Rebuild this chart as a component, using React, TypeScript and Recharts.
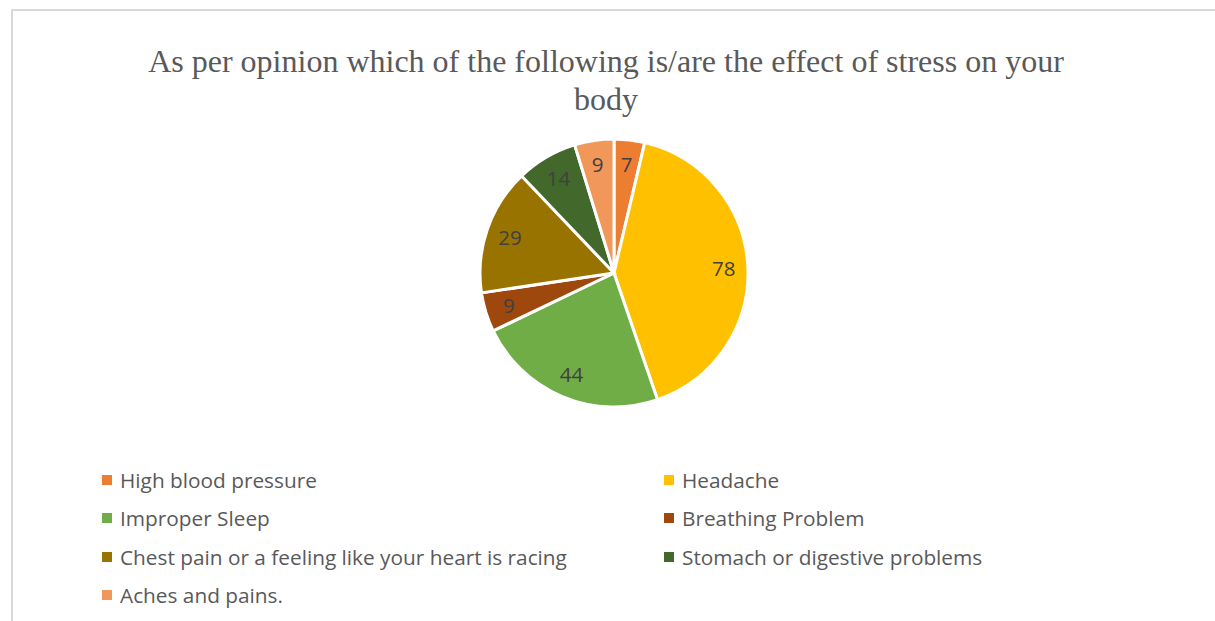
import React from 'react';
import { PieChart, Pie, Cell, Legend } from 'recharts';

const categories = [
  'High blood pressure',
  'Headache',
  'Improper Sleep',
  'Breathing Problem',
  'Chest pain or a feeling like your heart is racing',
  'Stomach or digestive problems',
  'Aches and pains.',
];
const counts = [7, 78, 44, 9, 29, 14, 9];
const colors = ['#ED7D31', '#FFC000', '#70AD47', '#9E480E', '#997300', '#43682B', '#F1975A'];

const title = 'As per opinion which of the following is/are the effect of stress on your body';

const data = categories.map((name, i) => ({ name, value: counts[i] }));

const RADIAN = Math.PI / 180;
const FONT = '"Open Sans", "Noto Sans", sans-serif';

function renderLabel(props: any) {
  const { cx, cy, midAngle, outerRadius, value } = props;
  const r = outerRadius * 0.82;
  const x = cx + r * Math.cos(-midAngle * RADIAN);
  const y = cy + r * Math.sin(-midAngle * RADIAN);
  return (
    <text x={x} y={y} fill="#404040" fontSize={20.5} fontFamily={FONT} textAnchor="middle" dominantBaseline="central">
      {value}
    </text>
  );
}

function LegendGrid() {
  return (
    <div
      style={{
        display: 'grid',
        gridTemplateColumns: '562px 500px',
        fontFamily: FONT,
        fontSize: 20.8,
        color: '#595959',
      }}
    >
      {categories.map((name, i) => (
        <div key={name} style={{ display: 'flex', alignItems: 'center', height: 38.3, whiteSpace: 'nowrap' }}>
          <span style={{ width: 10, height: 10, background: colors[i], marginRight: 8, flexShrink: 0 }} />
          <span>{name}</span>
        </div>
      ))}
    </div>
  );
}

export default function App() {
  return (
    <div style={{ position: 'absolute', left: 0, top: 0, width: 1215, height: 621, background: '#fff', overflow: 'hidden' }}>
      <div
        style={{
          position: 'absolute',
          left: 11,
          top: 9,
          width: 1220,
          height: 640,
          borderTop: '2px solid #d9d9d9',
          borderLeft: '2px solid #d9d9d9',
        }}
      />
      <div
        style={{
          position: 'absolute',
          left: 136,
          top: 42,
          width: 940,
          textAlign: 'center',
          fontFamily: '"Liberation Serif", "Times New Roman", serif',
          fontSize: 32,
          lineHeight: '38px',
          color: '#595959',
        }}
      >
        {title}
      </div>
      <div style={{ position: 'absolute', left: 0, top: 0 }}>
        <PieChart width={1215} height={621} margin={{ top: 0, right: 0, bottom: 0, left: 0 }}>
          <Pie
            data={data}
            dataKey="value"
            nameKey="name"
            cx={614}
            cy={273}
            outerRadius={134}
            startAngle={90}
            endAngle={-270}
            stroke="#ffffff"
            strokeWidth={3}
            label={renderLabel}
            labelLine={false}
            isAnimationActive={false}
          >
            {data.map((d, i) => (
              <Cell key={d.name} fill={colors[i]} />
            ))}
          </Pie>
          <Legend
            content={() => <LegendGrid />}
            wrapperStyle={{ position: 'absolute', left: 102, top: 461, width: 1100 }}
          />
        </PieChart>
      </div>
    </div>
  );
}
